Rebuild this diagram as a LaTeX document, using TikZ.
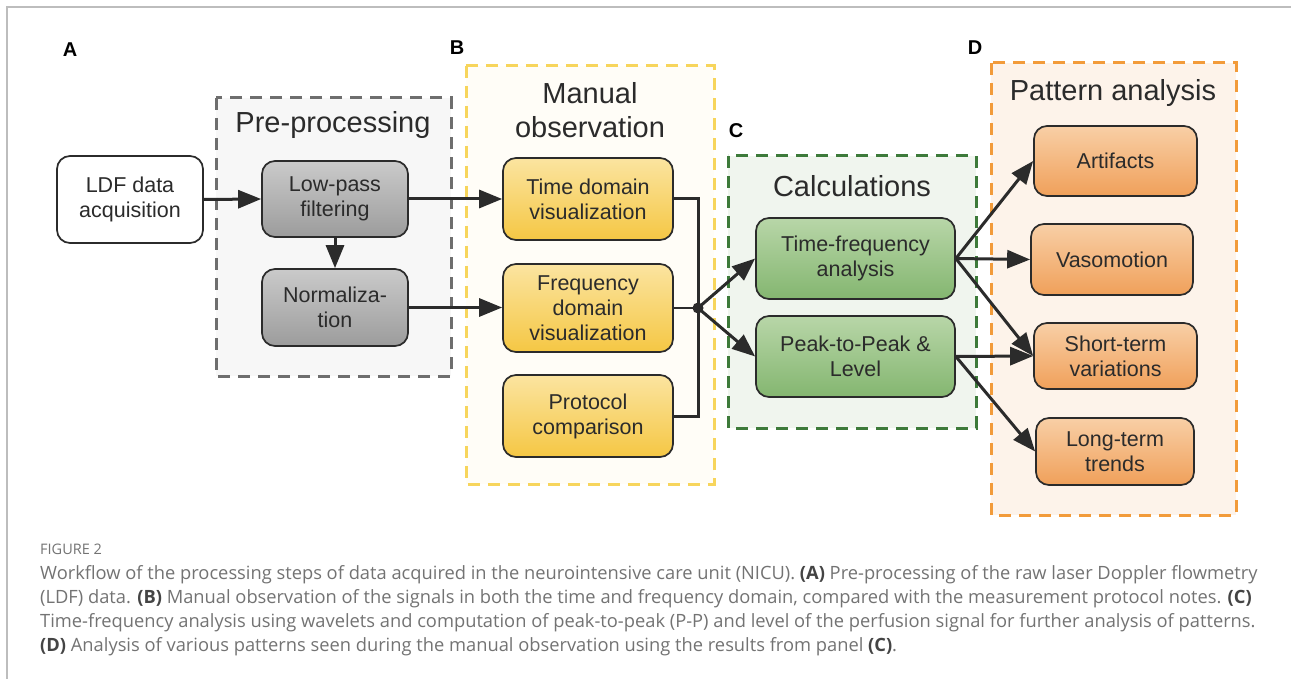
\documentclass[tikz,border=0pt]{standalone}
\usepackage{fontspec}
\usetikzlibrary{arrows.meta}
\newfontfamily\diagfont{Liberation Sans}
\newfontfamily\capfont{Open Sans}

\definecolor{ink}{HTML}{2B2B2B}
\definecolor{framegray}{HTML}{BDBDBD}
\definecolor{capgray}{HTML}{737373}
\definecolor{capbold}{HTML}{444444}
% group frames
\definecolor{preline}{HTML}{6E6E6E}\definecolor{prefill}{HTML}{F7F7F7}
\definecolor{manline}{HTML}{F7D55C}\definecolor{manfill}{HTML}{FFFDF7}
\definecolor{calcline}{HTML}{3D7A3A}\definecolor{calcfill}{HTML}{F0F5EE}
\definecolor{patline}{HTML}{F29B3A}\definecolor{patfill}{HTML}{FDF3EA}
% box gradients
\definecolor{grayT}{HTML}{CACACA}\definecolor{grayB}{HTML}{9C9C9C}
\definecolor{yelT}{HTML}{FBE4A0}\definecolor{yelB}{HTML}{F5C744}
\definecolor{grnT}{HTML}{B8D6A8}\definecolor{grnB}{HTML}{84B670}
\definecolor{orgT}{HTML}{F8CFA6}\definecolor{orgB}{HTML}{F0A05A}

\tikzset{
  box/.style={draw=ink, line width=1.7, rounded corners=13, align=center,
    inner sep=0pt, text=ink, font=\diagfont\fontsize{21.5}{25}\selectfont},
  graybox/.style={box, top color=grayT, bottom color=grayB},
  yelbox/.style={box, top color=yelT, bottom color=yelB},
  grnbox/.style={box, top color=grnT, bottom color=grnB},
  orgbox/.style={box, top color=orgT, bottom color=orgB},
  group/.style={line width=3, dash pattern=on 12pt off 8pt},
  grouptitle/.style={text=ink, align=center, inner sep=0pt,
    font=\diagfont\fontsize{29}{34}\selectfont},
  panel/.style={text=black, inner sep=0pt, font=\diagfont\bfseries\fontsize{20}{22}\selectfont},
  flow/.style={draw=ink, line width=3, -{Triangle[length=23pt,width=18pt]}},
  link/.style={draw=ink, line width=3},
  caption/.style={anchor=west, inner sep=0pt, text=capgray,
    font=\capfont\fontsize{18.3}{22}\selectfont},
}
\newcommand{\capb}[1]{{\bfseries\color{capbold}#1}}

\begin{document}
\begin{tikzpicture}[x=1pt,y=-1pt]
\useasboundingbox (0,0) rectangle (1291,679);
\fill[white] (0,0) rectangle (1291,679);
% outer frame (top and left rules)
\draw[framegray, line width=1.5] (1291,7) -- (7,7) -- (7,679);

% panel letters
\node[panel] (lA) at (70,50) {A};
\node[panel] (lB) at (457,48) {B};
\node[panel] (lC) at (736,131) {C};
\node[panel] (lD) at (975,48) {D};

% group frames
\draw[group, draw=preline, fill=prefill] (216,98) rectangle (451,376);
\draw[group, draw=manline, fill=manfill] (466,66) rectangle (714,484);
\draw[group, draw=calcline, fill=calcfill] (728,156) rectangle (976,428);
\draw[group, draw=patline, fill=patfill] (991,63) rectangle (1236,515);

\node[grouptitle] (tPre) at (333,125) {Pre-processing};
\node[grouptitle] (tMan) at (590,110) {Manual\\observation};
\node[grouptitle] (tCalc) at (852,186) {Calculations};
\node[grouptitle] (tPat) at (1113,93) {Pattern analysis};

% process boxes
\node[box, fill=white, minimum width=146, minimum height=87] (ldf) at (130,199.5) {LDF data\\acquisition};
\node[graybox, minimum width=146, minimum height=76] (lp) at (335,199) {Low-pass\\filtering};
\node[graybox, minimum width=146, minimum height=77] (norm) at (335,307.5) {Normaliza-\\tion};

\node[yelbox, minimum width=170, minimum height=82] (td) at (588,199) {Time domain\\visualization};
\node[yelbox, minimum width=170, minimum height=88] (fd) at (588,308) {Frequency\\domain\\visualization};
\node[yelbox, minimum width=170, minimum height=82] (pc) at (588,416) {Protocol\\comparison};

\node[grnbox, minimum width=199, minimum height=81] (tf) at (855.5,258.5) {Time-frequency\\analysis};
\node[grnbox, minimum width=199, minimum height=81] (pp) at (855.5,356.5) {Peak-to-Peak \&\\Level};

\node[orgbox, minimum width=163, minimum height=70] (art) at (1115.5,161) {Artifacts};
\node[orgbox, minimum width=162, minimum height=71] (vaso) at (1112,259.5) {Vasomotion};
\node[orgbox, minimum width=163, minimum height=66] (st) at (1115.5,356) {Short-term\\variations};
\node[orgbox, minimum width=158, minimum height=67] (lt) at (1115,451.5) {Long-term\\trends};

% junction collecting the manual observations
\coordinate (jn) at (698,308);

% connectors
\draw[flow] (ldf.east) -- (lp.west);
\draw[flow] (lp.south) -- (norm.north);
\draw[flow] (lp.east) -- (td.west);
\draw[flow] (norm.east) -- (fd.west |- norm.east);
\draw[link, line cap=butt] (td.east) -| (jn);
\draw[link, line cap=butt] (pc.east) -| (jn);
\draw[draw=ink, line width=1.5] (fd.east) -- (jn);
\fill[ink] (jn) circle (5.5);
\draw[flow] (jn) -- (tf.west);
\draw[flow] (jn) -- (pp.west);

\draw[flow] (tf.east) -- (art.west);
\draw[flow] (tf.east) -- (vaso.west);
\draw[flow] (tf.east) -- (st.west);
\draw[flow] (pp.east) -- (st.west);
\draw[flow] (pp.east) -- (lt.west);

% caption
\node[anchor=west, inner sep=0pt, text=capgray, font=\capfont\fontsize{14.5}{16}\selectfont] (fig) at (40,549) {FIGURE 2};
\node[caption] (c1) at (40,575) {Workflow of the processing steps of data acquired in the neurointensive care unit (NICU). \capb{(A)} Pre-processing of the raw laser Doppler flowmetry};
\node[caption] (c2) at (40,599) {(LDF) data. \capb{(B)} Manual observation of the signals in both the time and frequency domain, compared with the measurement protocol notes. \capb{(C)}};
\node[caption] (c3) at (40,623) {Time-frequency analysis using wavelets and computation of peak-to-peak (P-P) and level of the perfusion signal for further analysis of patterns.};
\node[caption] (c4) at (40,647) {\capb{(D)} Analysis of various patterns seen during the manual observation using the results from panel \capb{(C)}.};
\end{tikzpicture}
\end{document}
